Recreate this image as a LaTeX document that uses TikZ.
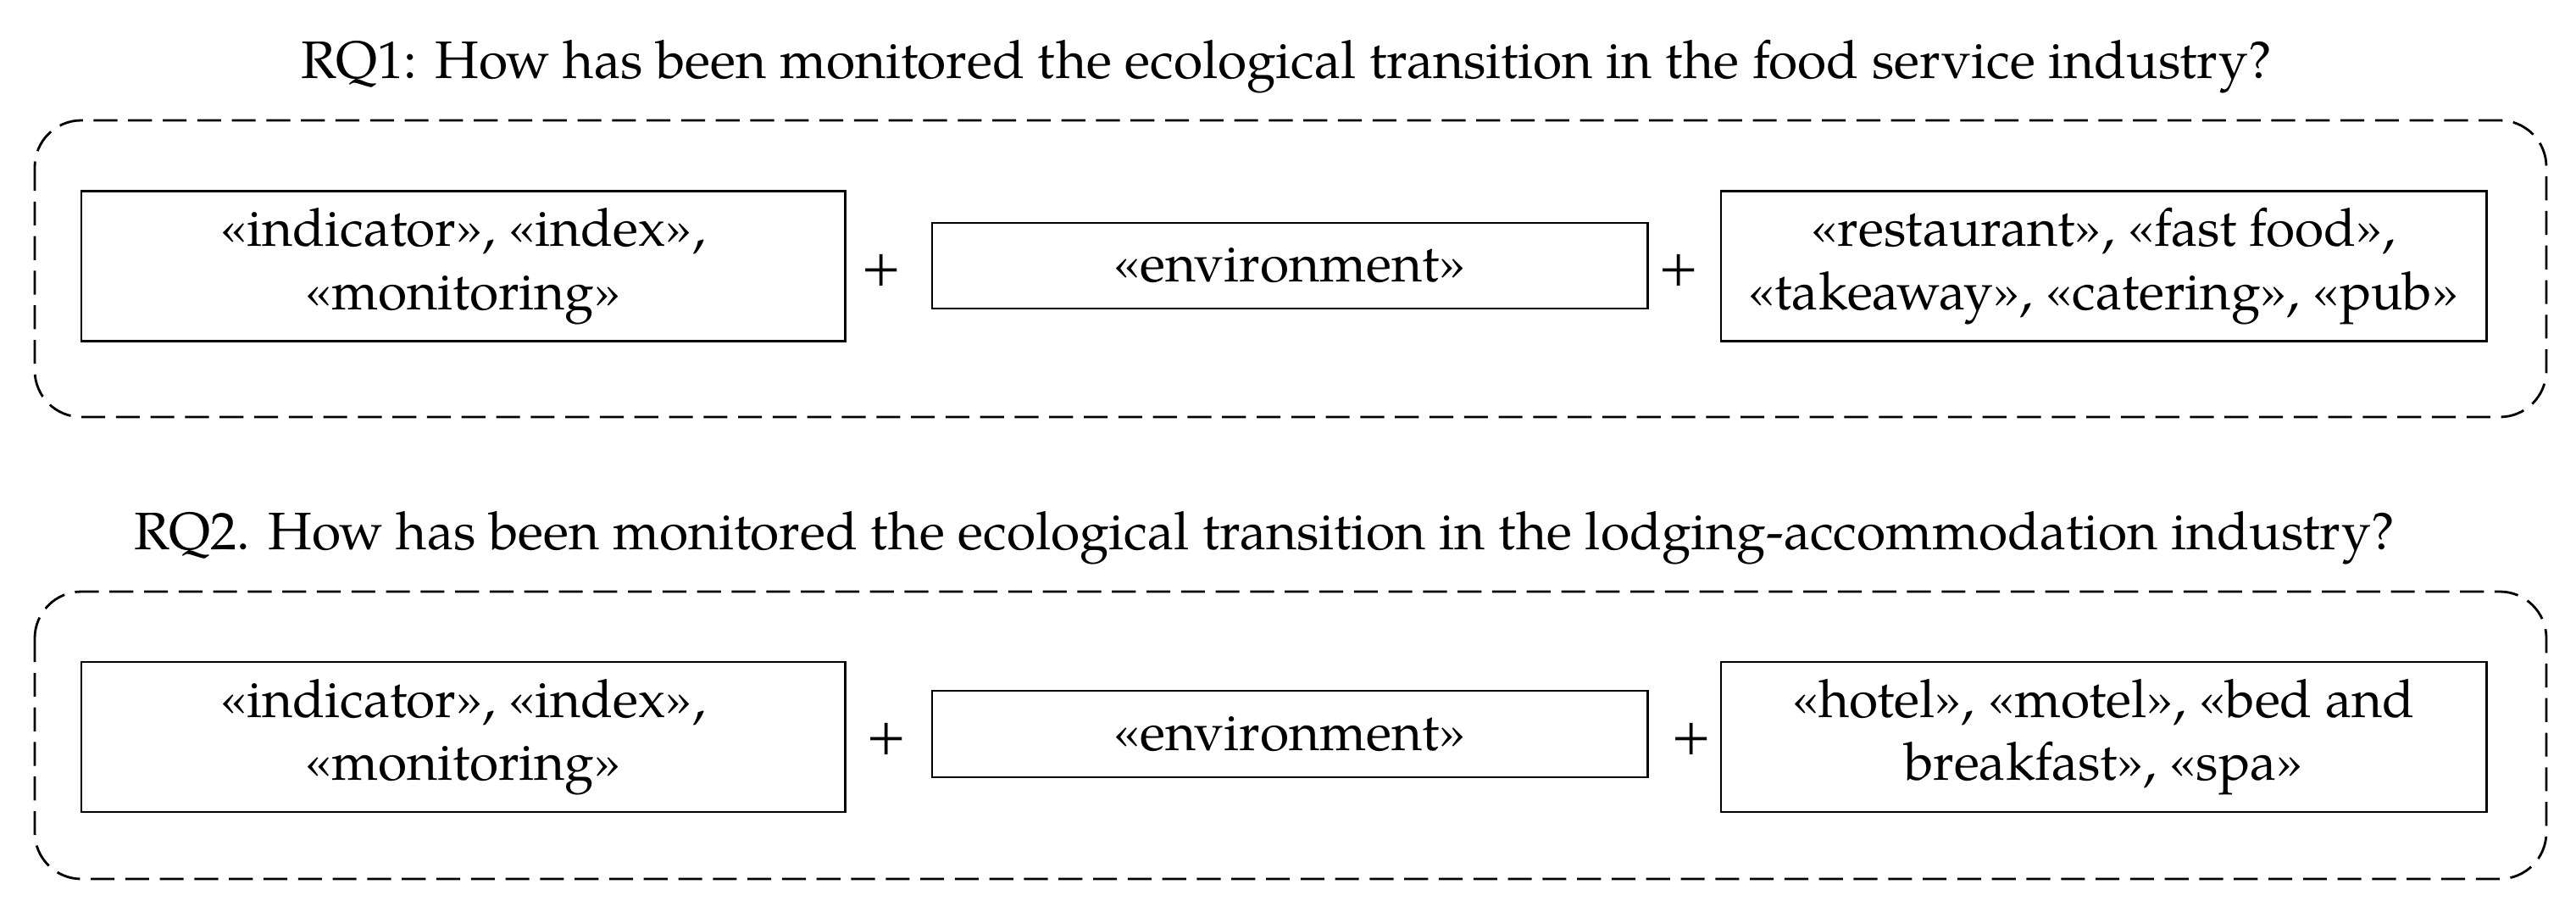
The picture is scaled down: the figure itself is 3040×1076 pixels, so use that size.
\documentclass[tikz,border=0pt]{standalone}
\usepackage{fontspec}
\setmainfont{TeX Gyre Pagella}
\begin{document}
\begin{tikzpicture}[x={(0.01cm,0)},y={(0,-0.01cm)},
  txt/.style={font=\fontsize{17.7}{21.2}\selectfont, align=center},
  kbox/.style={txt, draw, line width=0.7pt, inner sep=0pt},
  frame/.style={draw, line width=0.8pt, dash pattern=on 8pt off 3.6pt, rounded corners=0.55cm},
  plus/.style={txt, inner sep=0pt}]
\useasboundingbox (0,0) rectangle (3040,1076);
% RQ1
\node[txt, anchor=base] (t1) at (1518,93) {RQ1: How has been monitored the ecological transition in the food service industry?};
\draw[frame] (41,142) rectangle (3005,492);
\node[kbox, minimum width=9.01cm, minimum height=1.77cm] (a1) at (546.5,314) {«indicator», «index»,\\«monitoring»};
\node[kbox, minimum width=8.44cm, minimum height=1.01cm] (b1) at (1522,313.5) {«environment»};
\node[kbox, minimum width=9.03cm, minimum height=1.77cm] (c1) at (2482.5,314) {«restaurant», «fast food»,\\«takeaway», «catering», «pub»};
\node[plus] (p11) at (1040,319) {+};
\node[plus] (p12) at (1981,319) {+};
% RQ2
\node[txt, anchor=base] (t2) at (1492,648) {RQ2. How has been monitored the ecological transition in the lodging-accommodation industry?};
\draw[frame] (41,698) rectangle (3005,1037);
\node[kbox, minimum width=9.01cm, minimum height=1.77cm] (a2) at (546.5,869.5) {«indicator», «index»,\\«monitoring»};
\node[kbox, minimum width=8.44cm, minimum height=1.02cm] (b2) at (1522,866) {«environment»};
\node[kbox, minimum width=9.03cm, minimum height=1.77cm] (c2) at (2482.5,869.5) {«hotel», «motel», «bed and\\breakfast», «spa»};
\node[plus] (p21) at (1046,872) {+};
\node[plus] (p22) at (1996,872) {+};
\end{tikzpicture}
\end{document}
